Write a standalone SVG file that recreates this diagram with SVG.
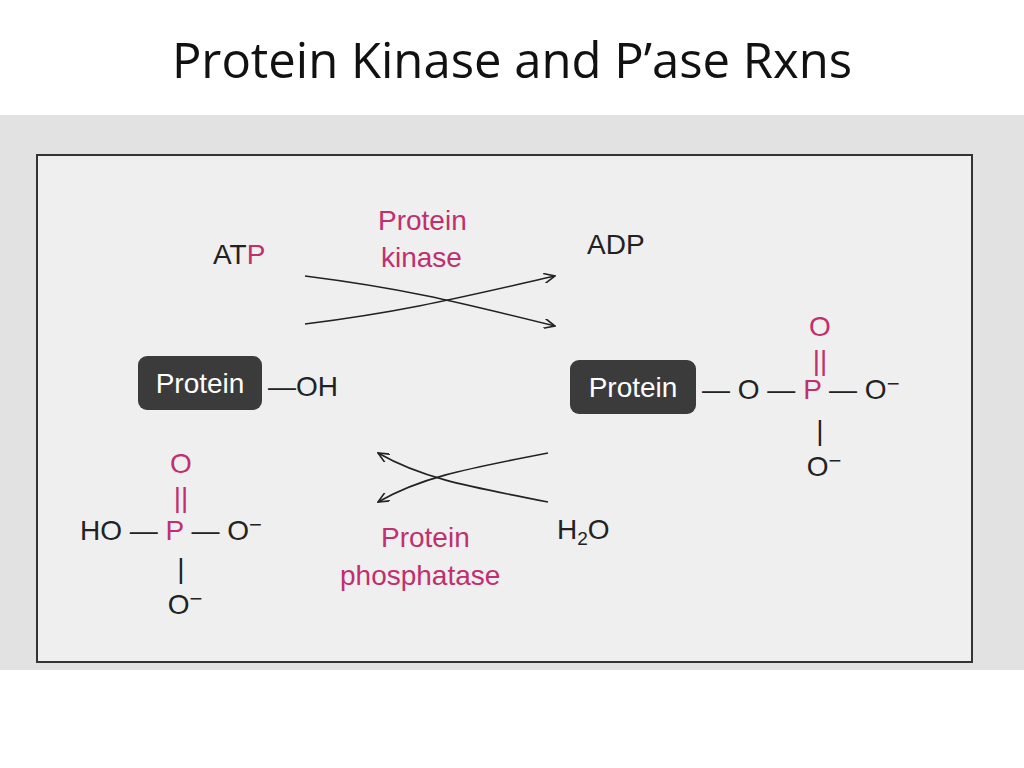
<svg xmlns="http://www.w3.org/2000/svg" width="1024" height="768" viewBox="0 0 1024 768">
<defs>
<style>
.t{font-family:"Liberation Sans",Arial,sans-serif;font-size:28px;fill:#222}
.m{fill:#c0306e}
.w{fill:#fff}
.c{fill:none;stroke:#222;stroke-width:1.6}
</style>
<marker id="a" markerWidth="12" markerHeight="10" refX="11" refY="5" orient="auto" markerUnits="userSpaceOnUse">
<path d="M0,0 L11,5 L0,10" fill="none" stroke="#222" stroke-width="1.6"/>
</marker>
</defs>
<rect width="1024" height="768" fill="#fff"/>
<text x="512" y="78" text-anchor="middle" style="font-family:'Open Sans','Liberation Sans',sans-serif;font-size:49px;fill:#111">Protein Kinase and P’ase Rxns</text>
<rect x="0" y="115" width="1024" height="555" fill="#e2e2e2"/>
<rect x="37" y="155" width="935" height="507" fill="#efefef" stroke="#333" stroke-width="2"/>
<g id="connectors">
<path class="c" d="M305,276 C400,288 450,300 555,326" marker-end="url(#a)"/>
<path class="c" d="M305,324 C400,312 450,300 555,276" marker-end="url(#a)"/>
<path class="c" d="M548,453 C460,470 420,478 378,502" marker-end="url(#a)"/>
<path class="c" d="M548,502 C460,485 420,477 378,453" marker-end="url(#a)"/>
</g>
<g id="atp"><text class="t" x="213" y="264">AT<tspan class="m">P</tspan></text></g>
<g id="kinase"><text class="t m" x="378" y="230">Protein</text><text class="t m" x="381" y="267">kinase</text></g>
<g id="adp"><text class="t" x="587" y="254">ADP</text></g>
<g id="protein-oh">
<rect x="138" y="356" width="124" height="54" rx="9" fill="#3b3b3b"/>
<text class="t w" x="200" y="393" text-anchor="middle">Protein</text>
<text class="t" x="268" y="396">—OH</text>
</g>
<g id="phosphoprotein">
<rect x="570" y="360" width="126" height="54" rx="9" fill="#3b3b3b"/>
<text class="t w" x="633" y="397" text-anchor="middle">Protein</text>
<text class="t" x="702" y="399">— O — <tspan class="m">P</tspan> — O<tspan dy="-8" font-size="22">−</tspan></text>
<text class="t m" x="820" y="336" text-anchor="middle">O</text>
<text class="t m" x="820" y="370" text-anchor="middle">||</text>
<text class="t" x="820" y="440" text-anchor="middle">|</text>
<text class="t" x="824" y="476" text-anchor="middle">O<tspan dy="-8" font-size="22">−</tspan></text>
</g>
<g id="phosphate">
<text class="t m" x="181" y="473" text-anchor="middle">O</text>
<text class="t m" x="181" y="507" text-anchor="middle">||</text>
<text class="t" x="80" y="540">HO — <tspan class="m">P</tspan> — O<tspan dy="-8" font-size="22">−</tspan></text>
<text class="t" x="181" y="578" text-anchor="middle">|</text>
<text class="t" x="185" y="614" text-anchor="middle">O<tspan dy="-8" font-size="22">−</tspan></text>
</g>
<g id="water"><text class="t" x="557" y="539">H<tspan font-size="19" dy="6">2</tspan><tspan dy="-6">O</tspan></text></g>
<g id="phosphatase"><text class="t m" x="381" y="547">Protein</text><text class="t m" x="340" y="585">phosphatase</text></g>
</svg>
